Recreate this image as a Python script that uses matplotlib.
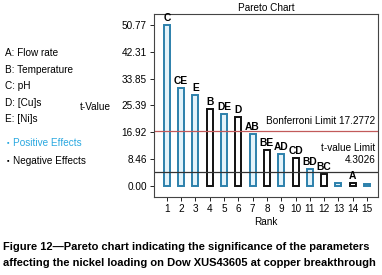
import numpy as np
import matplotlib
matplotlib.use('Agg')
import matplotlib.pyplot as plt

plt.rcParams['font.family'] = ['Liberation Sans', 'DejaVu Sans']

# data
ranks = list(range(1, 16))
t_values = [50.77, 30.9, 28.8, 24.3, 22.6, 21.7, 16.3, 11.4, 10.0, 8.7, 5.4, 3.8, 1.0, 0.8, 0.5]
labels = ['C', 'CE', 'E', 'B', 'DE', 'D', 'AB', 'BE', 'AD', 'CD', 'BD', 'BC', '', 'A', '']
positive = [True, True, True, False, True, False, True, False, True, False, True, False, True, False, True]
y_ticks = [0.00, 8.46, 16.92, 25.39, 33.85, 42.31, 50.77]
bonferroni = 17.2772
t_limit = 4.3026
factors = ['A: Flow rate', 'B: Temperature', 'C: pH', 'D: [Cu]s', 'E: [Ni]s']

pos_col = '#2c80ab'
neg_col = '#111111'
fs = 7.2

fig = plt.figure(figsize=(3.82, 2.75), dpi=100)
ax = fig.add_axes([0.403, 0.284, 0.587, 0.665])

edge = [pos_col if p else neg_col for p in positive]
face = ['#e4f3fa' if p else 'white' for p in positive]
ax.bar(ranks, t_values, width=0.42, color=face, edgecolor=edge, linewidth=1.4)
for r, v, lab in zip(ranks, t_values, labels):
    if lab:
        ax.text(r, v + 0.6, lab, ha='center', va='bottom', fontsize=7.4,
                fontweight='bold')

ax.axhline(bonferroni, color='#c25a5a', lw=0.9)
ax.axhline(t_limit, color='#333333', lw=0.9)
ax.text(15.6, bonferroni + 1.6, 'Bonferroni Limit 17.2772', ha='right',
        va='bottom', fontsize=fs)
ax.text(15.6, 10.5, 't-value Limit', ha='right', va='bottom', fontsize=fs)
ax.text(15.6, 6.6, '4.3026', ha='right', va='bottom', fontsize=fs)

ax.set_xlim(0.1, 15.78)
ax.set_ylim(-3.5, 54.3)
ax.set_xticks(ranks)
ax.set_yticks(y_ticks)
ax.set_yticklabels(['%.2f' % t for t in y_ticks])
ax.tick_params(labelsize=fs, length=3, width=0.6, pad=2)
for s in ax.spines.values():
    s.set_linewidth(0.8)
    s.set_color('#444444')
ax.set_title('Pareto Chart', fontsize=fs, pad=2)
ax.set_xlabel('Rank', fontsize=fs, labelpad=2)

fig.text(0.21, 0.61, 't-Value', fontsize=fs, va='center')

for i, f in enumerate(factors):
    fig.text(0.013, 0.807 - i * 0.06, f, fontsize=fs, va='center')
fig.text(0.018, 0.48, '\u25aa', fontsize=5, va='center', color='#29a8e0')
fig.text(0.035, 0.48, 'Positive Effects', fontsize=fs, va='center', color='#29a8e0')
fig.text(0.018, 0.415, '\u25aa', fontsize=5, va='center', color='black')
fig.text(0.035, 0.415, 'Negative Effects', fontsize=fs, va='center')

fig.text(0.008, 0.102, 'Figure 12\u2014Pareto chart indicating the significance of the parameters',
         fontsize=8.05, fontweight='bold', va='center')
fig.text(0.008, 0.045, 'affecting the nickel loading on Dow XUS43605 at copper breakthrough',
         fontsize=8.05, fontweight='bold', va='center')

fig.savefig('out.png', dpi=100)
